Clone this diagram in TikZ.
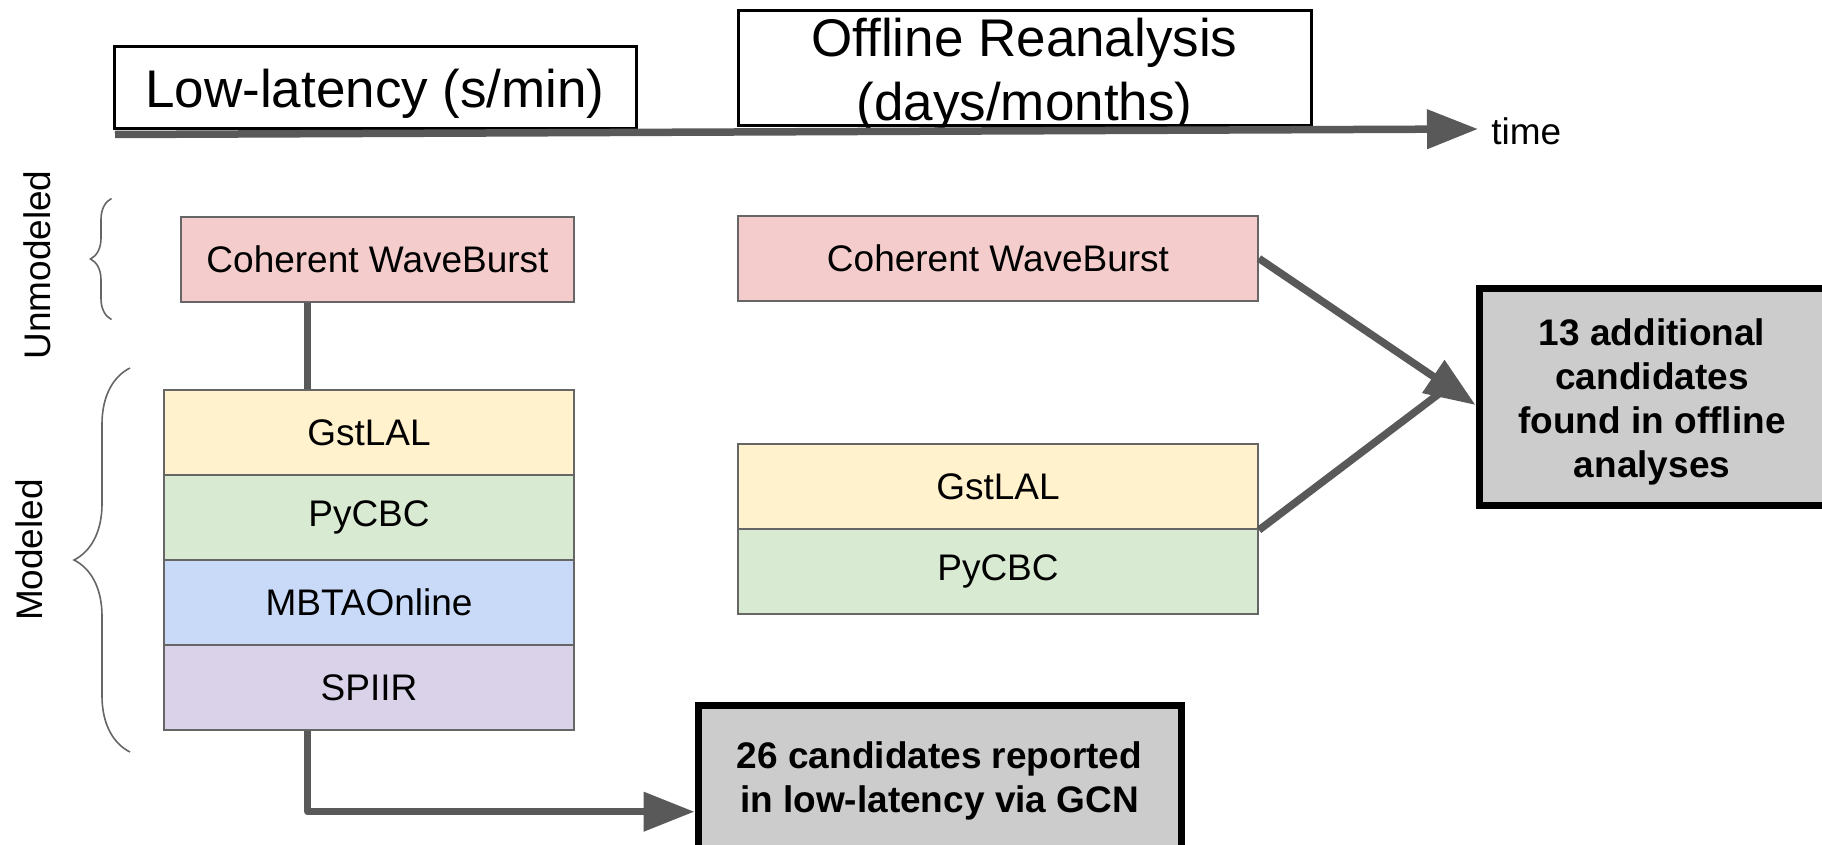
\documentclass[tikz,border=0pt]{standalone}
\usepackage{fontspec}
\setmainfont{Liberation Sans}
\usetikzlibrary{positioning}
\usetikzlibrary{matrix,arrows.meta,decorations.pathreplacing}

\definecolor{cwbred}{HTML}{F4CCCC}
\definecolor{gstyel}{HTML}{FFF2CC}
\definecolor{pycgrn}{HTML}{D9EAD3}
\definecolor{mbtablu}{HTML}{C9DAF8}
\definecolor{spiirvio}{HTML}{D9D2E9}
\definecolor{resgray}{HTML}{CCCCCC}
\definecolor{lngray}{HTML}{595959}
\definecolor{bxgray}{HTML}{666666}

\begin{document}
\begin{tikzpicture}[
    x=0.5pt, y=-0.5pt,
    >={Triangle[length=25.5pt,width=19pt]},
    alg/.style={
        draw=bxgray,
        line width=1pt,
        font=\fontsize{18.5}{22}\selectfont,
        minimum height=42.5pt,
        inner sep=0pt,
    },
    cwb/.style={alg,fill=cwbred},
    gst/.style={alg,fill=gstyel},
    pyc/.style={alg,fill=pycgrn},
    mbta/.style={alg,fill=mbtablu},
    spiir/.style={alg,fill=spiirvio},
    ttl/.style={
        draw=black,
        line width=1.5pt,
        align=center,
        inner sep=0pt,
        font=\fontsize{26.5}{32}\selectfont,
    },
    res/.style={
        draw=black,
        line width=3.5pt,
        fill=resgray,
        align=center,
        inner sep=0pt,
        font=\bfseries\fontsize{18.5}{22}\selectfont,
    },
    grp/.style={font=\fontsize{18.5}{22}\selectfont, rotate=90, inner sep=0pt},
    brc/.style={draw=bxgray, line width=0.8pt, decorate},
    conn/.style={draw=lngray, line width=3.75pt},
]
    \useasboundingbox (0,0) rectangle (1822,845);
    \clip (0,0) rectangle (1822,845);

    % ~~~ time line ~~~~~~~~~~~~
    \node[ttl, minimum width=261pt, minimum height=41pt, text height=25.1pt] (lowttl) at (375,88)
        {Low-latency (s/min)};
    \node[ttl, minimum width=286.5pt, minimum height=57.5pt, text height=55pt, text depth=2.1pt] (offttl) at (1024.5,68)
        {Offline Reanalysis\\(days/months)};
    \coordinate (t0) at (115,134.5);
    \coordinate (t1) at (1478,129);
    \node[font=\fontsize{18.5}{22}\selectfont, inner sep=0pt, right=6.5pt of t1, yshift=-1pt] (time) {time};
    \draw[conn,->] (t0) -- (t1);

    % ~~~ groups ~~~~~~~~~~~~
    \node[grp] (unmod) at (37.5,265) {Unmodeled};
    \node[grp] (mod) at (29,550) {Modeled};
    \draw[brc, decoration={brace, amplitude=10.5pt}] (111.5,319.5) -- (111.5,198.5);
    \draw[brc, decoration={brace, amplitude=28pt}] (130,752) -- (130,368);

    % ~~~ low-latency pipelines ~~~~~~~~~~~~
    \node[cwb, minimum width=196.5pt] (locwb) at (377.5,259.5) {Coherent WaveBurst};
    \matrix (lo) [matrix of nodes, row sep=-1pt, nodes={minimum width=204.5pt}] at (369,560) {
        |[gst]|   GstLAL \\
        |[pyc]|   PyCBC \\
        |[mbta]|  MBTAOnline \\
        |[spiir]| SPIIR \\
    };

    % ~~~ offline pipelines ~~~~~~~~~~~~
    \node[cwb, minimum width=260pt] (ofcwb) at (998,258.5) {Coherent WaveBurst};
    \matrix (of) [matrix of nodes, row sep=-1pt, nodes={minimum width=260pt}] at (998,529) {
        |[gst]| GstLAL \\
        |[pyc]| PyCBC \\
    };

    % ~~~ results ~~~~~~~~~~~~
    \node[res, minimum width=241.5pt, minimum height=72pt, text height=39.5pt] (res26) at (939.5,777)
        {26 candidates reported\\in low-latency via GCN};
    \node[res, minimum width=173pt, minimum height=108.5pt, text height=84.4pt] (res13) at (1652,397)
        {13 additional\\candidates\\found in offline\\analyses};

    % ~~~ connectors ~~~~~~~~~~~~
    \coordinate (lane) at (307.7,0);
    \coordinate (merge) at (1440,393);
    \draw[conn] (locwb.south -| lane) -- (lo-1-1.north -| lane);
    \draw[conn,->, line join=round] (lo-4-1.south -| lane) |- ([yshift=-17.35pt]res26.west);
    \draw[conn] (of-1-1.south east) -- (merge);
    \draw[conn,->] (ofcwb.east) -- ([yshift=-4pt]res13.west);
\end{tikzpicture}
\end{document}
